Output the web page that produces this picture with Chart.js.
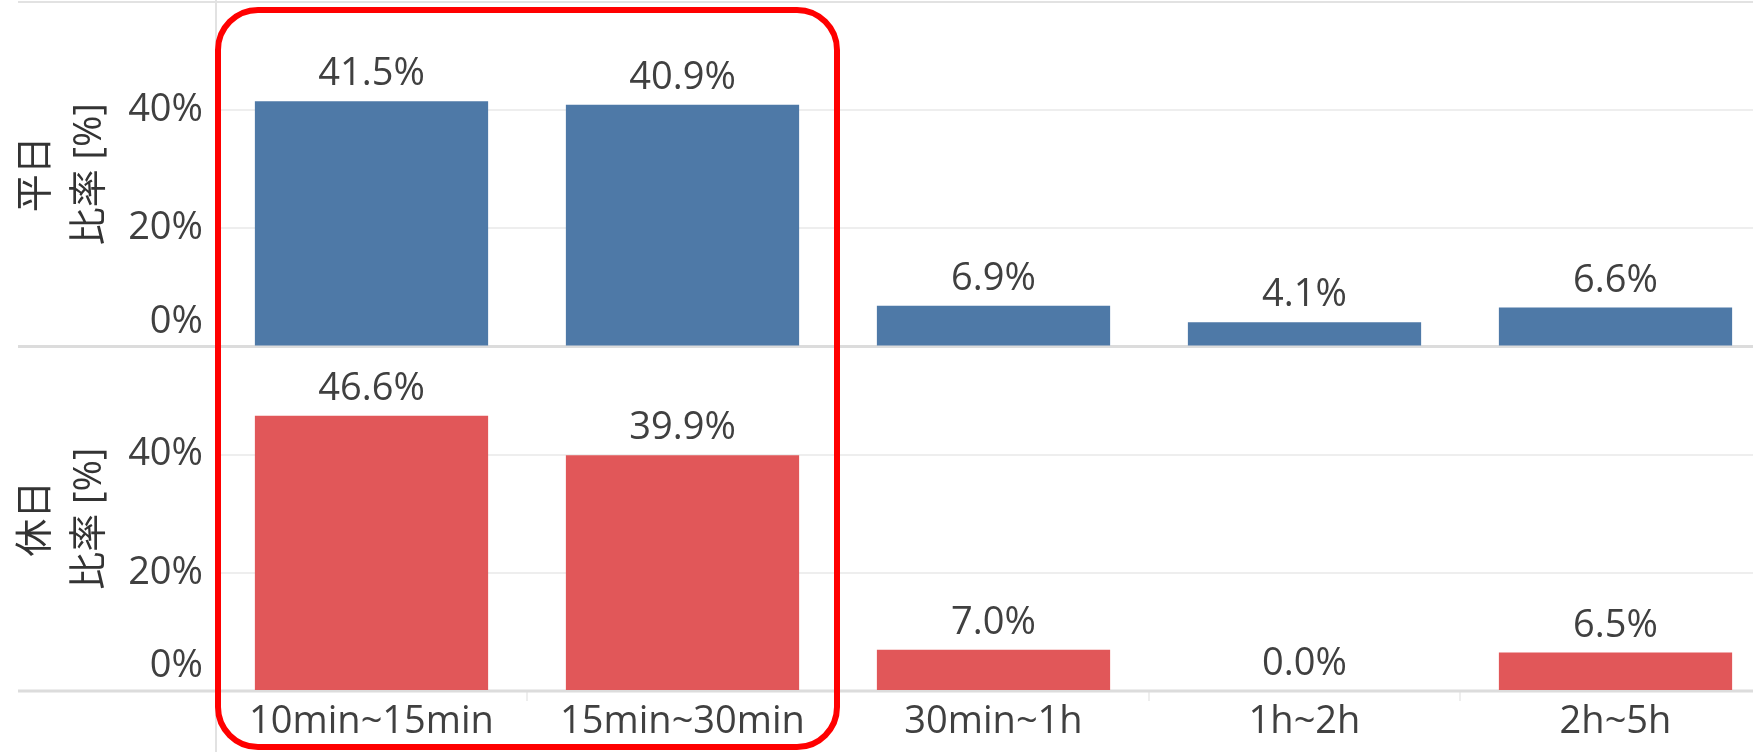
<!DOCTYPE html>
<html lang="ja">
<head>
<meta charset="utf-8">
<title>比率</title>
<script src="https://cdn.jsdelivr.net/npm/chart.js@4.4.1/dist/chart.umd.min.js"></script>
<style>
html, body { margin: 0; padding: 0; background: #fff; overflow: hidden; }
#wrap { position: relative; width: 1753px; height: 752px; overflow: hidden; }
#ratioChart { position: absolute; left: 0; top: 0; }
</style>
</head>
<body>
<div id="wrap"><canvas id="ratioChart" width="1771" height="752"></canvas></div>
<script>
// データ
const categories = ['10min~15min', '15min~30min', '30min~1h', '1h~2h', '2h~5h'];
const weekdayRatio = [41.5, 40.9, 6.9, 4.1, 6.6];
const holidayRatio = [46.6, 39.9, 7.0, 0.0, 6.5];
const yTicks = [0, 20, 40];
const weekdayTitle = ['平日', '比率 [%]'];
const holidayTitle = ['休日', '比率 [%]'];
const highlighted = ['10min~15min', '15min~30min'];

const TEXT = '#404040';

Chart.defaults.font.family = "'Open Sans', 'Noto Sans CJK JP', sans-serif";
Chart.defaults.color = TEXT;

function panelAxis(title) {
    return {
        type: 'linear',
        position: 'left',
        stack: 'panels',
        stackWeight: 1,
        min: 0,
        max: 58.3,
        afterFit: s => {
            s.width = 216;
            s.paddingTop = 0;
            s.paddingBottom = 0;
        },
        afterBuildTicks: s => { s.ticks = yTicks.map(v => ({ value: v })); },
        border: { display: false },
        grid: {
            color: c => (c.tick && c.tick.value === 0) ? 'rgba(0,0,0,0)' : '#eeeeee',
            lineWidth: 2,
            drawTicks: false,
            tickLength: 0
        },
        ticks: {
            padding: 13,
            color: TEXT,
            autoSkip: false,
            font: { size: 38, lineHeight: 1.3 },
            // 0% はパネル内に収める
            callback: v => v === 0 ? ['0%', ''] : v + '%'
        },
        title: {
            display: true,
            text: title,
            color: '#333',
            font: { size: 38, lineHeight: 1.4 },
            padding: { top: 10, bottom: 0 }
        }
    };
}

// 枠線・基準線
const frameLines = {
    id: 'frameLines',
    beforeDatasetsDraw(chart) {
        const { ctx, chartArea, scales } = chart;
        ctx.save();
        ctx.strokeStyle = '#dcdcdc';
        ctx.lineWidth = 3;
        ['yTop', 'yBottom'].forEach(id => {
            const y = scales[id].getPixelForValue(0);
            ctx.beginPath();
            ctx.moveTo(18, y);
            ctx.lineTo(chart.width, y);
            ctx.stroke();
        });
        ctx.lineWidth = 2;
        ctx.strokeStyle = '#e2e2e2';
        ctx.beginPath();
        ctx.moveTo(18, chartArea.top);
        ctx.lineTo(chart.width, chartArea.top);
        ctx.stroke();
        ctx.beginPath();
        ctx.moveTo(chartArea.left, 0);
        ctx.lineTo(chartArea.left, chart.height);
        ctx.stroke();
        ctx.restore();
    }
};

// 値ラベル
const valueLabels = {
    id: 'valueLabels',
    afterDatasetsDraw(chart) {
        const { ctx } = chart;
        ctx.save();
        ctx.font = "38px 'Open Sans', sans-serif";
        ctx.fillStyle = TEXT;
        ctx.textAlign = 'center';
        ctx.textBaseline = 'alphabetic';
        chart.data.datasets.forEach((ds, i) => {
            chart.getDatasetMeta(i).data.forEach((bar, j) => {
                ctx.fillText(ds.data[j].toFixed(1) + '%', bar.x, bar.y - 16);
            });
        });
        ctx.restore();
    }
};

// 赤枠
const highlightBox = {
    id: 'highlightBox',
    afterDraw(chart) {
        const { ctx, chartArea, scales } = chart;
        const x = scales.x;
        const catW = x.width / categories.length;
        const i0 = categories.indexOf(highlighted[0]);
        const i1 = categories.indexOf(highlighted[highlighted.length - 1]);
        const left = x.getPixelForValue(i0) - catW / 2 + 2;
        const right = x.getPixelForValue(i1) + catW / 2 - 1;
        const top = chartArea.top + 8;
        const bottom = chart.height - 5;
        ctx.save();
        ctx.strokeStyle = '#ff0000';
        ctx.lineWidth = 6;
        ctx.beginPath();
        ctx.roundRect(left, top, right - left, bottom - top, 40);
        ctx.stroke();
        ctx.restore();
    }
};

const ctx = document.getElementById('ratioChart').getContext('2d');
new Chart(ctx, {
    type: 'bar',
    data: {
        labels: categories,
        datasets: [
            {
                label: '平日',
                data: weekdayRatio,
                yAxisID: 'yTop',
                backgroundColor: '#4e79a7',
                grouped: false,
                barPercentage: 0.75,
                categoryPercentage: 1.0
            },
            {
                label: '休日',
                data: holidayRatio,
                yAxisID: 'yBottom',
                backgroundColor: '#e15759',
                grouped: false,
                barPercentage: 0.75,
                categoryPercentage: 1.0
            }
        ]
    },
    options: {
        responsive: false,
        devicePixelRatio: 1,
        animation: false,
        events: [],
        layout: { padding: { top: 2, left: 0, right: 0, bottom: 0 } },
        plugins: {
            legend: { display: false },
            tooltip: { enabled: false }
        },
        scales: {
            x: {
                offset: true,
                afterFit: s => {
                    s.height = 61;
                    s.paddingLeft = 0;
                    s.paddingRight = 0;
                },
                border: { display: false },
                grid: {
                    offset: true,
                    drawOnChartArea: false,
                    color: '#eeeeee',
                    lineWidth: 2,
                    tickLength: 10
                },
                ticks: {
                    padding: 2,
                    color: TEXT,
                    autoSkip: false,
                    maxRotation: 0,
                    font: { size: 38, lineHeight: 1.0 }
                }
            },
            // 積み重ね軸は先に定義したものが下になる
            yBottom: panelAxis(holidayTitle),
            yTop: panelAxis(weekdayTitle)
        }
    },
    plugins: [frameLines, valueLabels, highlightBox]
});
</script>
</body>
</html>
